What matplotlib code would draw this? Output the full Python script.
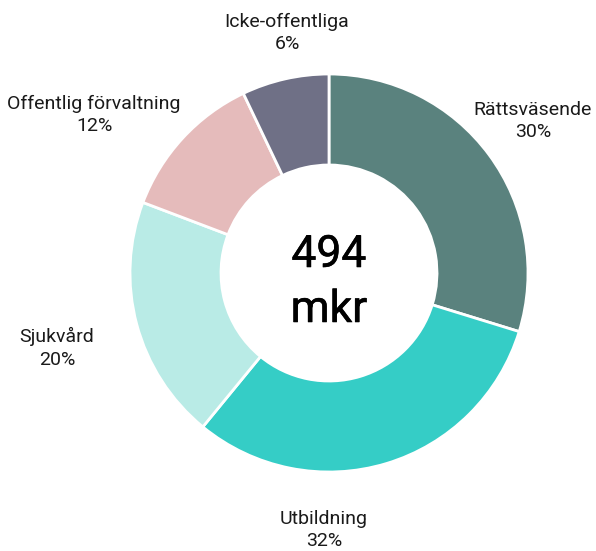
import matplotlib
matplotlib.use("Agg")
import matplotlib.pyplot as plt
import matplotlib.patheffects as pe

# amounts in mkr per sector (read from the arcs) and the printed shares
sectors = ["Rättsväsende", "Utbildning", "Sjukvård", "Offentlig förvaltning", "Icke-offentliga"]
amounts = [147, 154, 98, 60, 35]
pct_labels = ["30%", "32%", "20%", "12%", "6%"]
colors = ["#5a827e", "#35cdc6", "#b9ebe6", "#e5bbbb", "#6f7086"]
total_label = ["494", "mkr"]

# label anchors in pixel space (x from left, y from top)
label_xy = [(533, 121), (324, 530), (57, 348), (94, 115), (287, 33)]

W, H = 596, 551
CX, CY = 329, 278
R, R_IN = 199, 108

fig = plt.figure(figsize=(W / 100, H / 100), dpi=100)
ax = fig.add_axes([0, 0, 1, 1])

ax.pie(amounts, colors=colors, startangle=90, counterclock=False, center=(CX, CY), radius=R,
       wedgeprops=dict(width=R - R_IN, edgecolor="white", linewidth=2), frame=True)
ax.set_xlim(0, W); ax.set_ylim(0, H)
ax.set_aspect("equal"); ax.axis("off")

font = ["Roboto", "DejaVu Sans"]
for name, p, (x, y) in zip(sectors, pct_labels, label_xy):
    ax.text(x, H - y, f"{name}\n{p}", ha="center", va="center", fontsize=14,
            family=font, fontweight="normal", color="#1a1a1a", linespacing=1.35)

# regular weight thickened a little -> roughly the medium cut of the original
thick = [pe.withStroke(linewidth=0.4, foreground="black")]
ax.text(CX, CY + 18, total_label[0], ha="center", va="center", fontsize=32,
        family=font, fontweight="normal", color="black", path_effects=thick)
ax.text(CX, CY - 37, total_label[1], ha="center", va="center", fontsize=32,
        family=font, fontweight="normal", color="black", path_effects=thick)

fig.savefig("out.png", dpi=100)
